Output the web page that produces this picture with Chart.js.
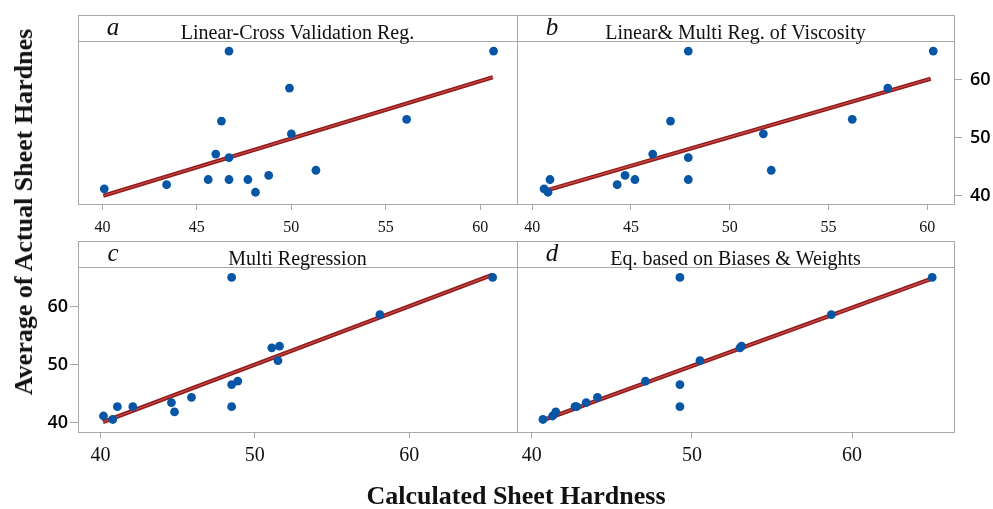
<!DOCTYPE html>
<html>
<head>
<meta charset="utf-8">
<title>Calculated vs Actual Sheet Hardness</title>
<script src="https://cdn.jsdelivr.net/npm/chart.js@4.4.1/dist/chart.umd.min.js"></script>
<style>
  html, body { margin: 0; padding: 0; background: #fff; }
  #wrap { position: relative; width: 993px; height: 509px; overflow: hidden; background: #fff; }
  #wrap canvas { position: absolute; left: 0; top: 0; }
  .axis-title {
    position: absolute;
    font-family: "Liberation Serif", "Times New Roman", serif;
    font-weight: bold;
    font-size: 26px;
    line-height: 26px;
    color: #111;
    white-space: nowrap;
  }
  #xTitle { left: 516px; top: 483px; transform: translateX(-50%); }
  #yTitle { left: 24px; top: 212px; transform: translate(-50%, -50%) rotate(-90deg); }
</style>
</head>
<body>
<div id="wrap">
  <canvas id="panelA" width="993" height="509"></canvas>
  <canvas id="panelB" width="993" height="509"></canvas>
  <canvas id="panelC" width="993" height="509"></canvas>
  <canvas id="panelD" width="993" height="509"></canvas>
  <div class="axis-title" id="xTitle">Calculated Sheet Hardness</div>
  <div class="axis-title" id="yTitle">Average of Actual Sheet Hardnes</div>
</div>
<script>
// Measured (actual) sheet hardness of each sample
const actualHardness = [40.6, 41.2, 41.9, 42.8, 42.8, 42.8, 43.5, 44.4, 46.6, 47.2, 50.7, 52.9, 53.2, 58.6, 65.0, 65.0];

// Calculated hardness for each sample, one array per method
const calcLinearCV    = [48.1, 40.1, 43.4, 45.6, 46.7, 47.7, 48.8, 51.3, 46.7, 46.0, 50.0, 46.3, 56.1, 49.9, 46.7, 60.7];
const calcViscosity   = [40.8, 40.6, 44.3, 40.9, 45.2, 47.9, 44.7, 52.1, 47.9, 46.1, 51.7, 47.0, 56.2, 58.0, 47.9, 60.3];
const calcMultiReg    = [40.8, 40.2, 44.8, 41.1, 42.1, 48.5, 44.6, 45.9, 48.5, 48.9, 51.5, 51.1, 51.6, 58.1, 48.5, 65.4];
const calcBiasWeights = [40.7, 41.3, 41.5, 42.7, 42.8, 49.25, 43.4, 44.1, 49.25, 47.1, 50.5, 53.0, 53.1, 58.7, 49.25, 65.0];

// Fitted regression lines (start and end points)
const fitLinearCV_x    = [40.05, 60.66];
const fitLinearCV_y    = [40.0, 60.47];
const fitViscosity_x   = [40.8, 60.17];
const fitViscosity_y   = [41.0, 60.22];
const fitMultiReg_x    = [40.17, 65.4];
const fitMultiReg_y    = [40.17, 65.45];
const fitBiasWeights_x = [40.7, 65.0];
const fitBiasWeights_y = [40.47, 64.8];

// Tick labels
const xTicksTop    = [40, 45, 50, 55, 60];
const xTicksBottom = [40, 50, 60];
const yTicks       = [40, 50, 60];

const POINT = '#0756a6';
const FRAME = '#a8a8a8';
const TEXT  = '#111111';
const SERIF = '"Liberation Serif", "Times New Roman", serif';
const SANS  = '"Open Sans", "Noto Sans", sans-serif';

// Panel box with a title strip above the plotting area
const panelFrame = {
  id: 'panelFrame',
  beforeDatasetsDraw(chart, args, opts) {
    const { ctx, chartArea: a } = chart;
    const top = a.top - opts.header;
    ctx.save();
    ctx.strokeStyle = FRAME;
    ctx.lineWidth = 1;
    ctx.strokeRect(Math.round(a.left) + 0.5, Math.round(top) + 0.5,
                   Math.round(a.right - a.left), Math.round(a.bottom - top));
    ctx.beginPath();
    ctx.moveTo(a.left, Math.round(a.top) + 0.5);
    ctx.lineTo(a.right, Math.round(a.top) + 0.5);
    ctx.stroke();
    ctx.fillStyle = TEXT;
    ctx.textBaseline = 'alphabetic';
    ctx.textAlign = 'center';
    ctx.font = '20px ' + SERIF;
    ctx.fillText(opts.title, (a.left + a.right) / 2, a.top - 2);
    ctx.font = 'italic 25px ' + SERIF;
    ctx.fillText(opts.letter, a.left + 35, a.top - 6);
    ctx.restore();
  }
};

function toPoints(xs, ys) {
  return xs.map((x, i) => ({ x: x, y: ys[i] }));
}

function makePanel(id, p) {
  const fit = toPoints(p.fitX, p.fitY);
  const xScale = {
    type: 'linear',
    position: 'bottom',
    min: p.xMin, max: p.xMax,
    afterBuildTicks: s => { s.ticks = p.xTicks.map(v => ({ value: v })); },
    afterFit: s => { s.height = 40; },
    grid: { display: true, drawOnChartArea: false, drawTicks: true, tickLength: 6, color: FRAME },
    border: { display: false },
    ticks: { font: { family: SERIF, size: p.xFont }, color: TEXT, padding: p.xPad, maxRotation: 0, autoSkip: false }
  };
  const yScale = {
    type: 'linear',
    min: p.yMin, max: p.yMax,
    display: p.yPos !== null,
    position: p.yPos || 'left',
    afterBuildTicks: s => { s.ticks = yTicks.map(v => ({ value: v })); },
    afterFit: s => { s.width = p.yWidth; },
    grid: { display: true, drawOnChartArea: false, drawTicks: true, tickLength: 8, color: FRAME },
    border: { display: false },
    ticks: { font: { family: SANS, size: 18, weight: '600' }, color: '#000', padding: p.yPad, autoSkip: false }
  };
  return new Chart(document.getElementById(id), {
    type: 'scatter',
    data: {
      datasets: [
        { data: toPoints(p.calc, actualHardness), backgroundColor: POINT, borderColor: POINT,
          borderWidth: 0, pointRadius: 4.4, pointHoverRadius: 4.4, order: 0 },
        { type: 'line', data: fit, borderColor: '#c8504c', borderWidth: 1.2,
          pointRadius: 0, fill: false, order: 1 },
        { type: 'line', data: fit, borderColor: '#931a1a', borderWidth: 4.2,
          pointRadius: 0, fill: false, order: 2 }
      ]
    },
    options: {
      responsive: false,
      animation: false,
      devicePixelRatio: 1,
      events: [],
      layout: { padding: p.padding },
      plugins: {
        legend: { display: false },
        tooltip: { enabled: false },
        panelFrame: { title: p.title, letter: p.letter, header: 26 }
      },
      scales: { x: xScale, y: yScale }
    },
    plugins: [panelFrame]
  });
}

makePanel('panelA', {
  title: 'Linear-Cross Validation Reg.', letter: 'a',
  calc: calcLinearCV, fitX: fitLinearCV_x, fitY: fitLinearCV_y,
  xMin: 38.71, xMax: 61.94, yMin: 38.57, yMax: 66.74,
  xTicks: xTicksTop, xFont: 16, xPad: 8,
  yPos: null, yWidth: 0, yPad: 2,
  padding: { left: 78, right: 476, top: 41, bottom: 265 }
});

makePanel('panelB', {
  title: 'Linear& Multi Reg. of Viscosity', letter: 'b',
  calc: calcViscosity, fitX: fitViscosity_x, fitY: fitViscosity_y,
  xMin: 39.23, xMax: 61.35, yMin: 38.57, yMax: 66.74,
  xTicks: xTicksTop, xFont: 16, xPad: 8,
  yPos: 'right', yWidth: 39, yPad: 8,
  padding: { left: 517, right: 0, top: 41, bottom: 265 }
});

makePanel('panelC', {
  title: 'Multi Regression', letter: 'c',
  calc: calcMultiReg, fitX: fitMultiReg_x, fitY: fitMultiReg_y,
  xMin: 38.55, xMax: 66.98, yMin: 38.45, yMax: 66.79,
  xTicks: xTicksBottom, xFont: 20, xPad: 6,
  yPos: 'left', yWidth: 60, yPad: 2,
  padding: { left: 18, right: 476, top: 267, bottom: 37 }
});

makePanel('panelD', {
  title: 'Eq. based on Biases & Weights', letter: 'd',
  calc: calcBiasWeights, fitX: fitBiasWeights_x, fitY: fitBiasWeights_y,
  xMin: 39.08, xMax: 66.36, yMin: 38.45, yMax: 66.79,
  xTicks: xTicksBottom, xFont: 20, xPad: 6,
  yPos: null, yWidth: 0, yPad: 2,
  padding: { left: 517, right: 39, top: 267, bottom: 37 }
});
</script>
</body>
</html>
